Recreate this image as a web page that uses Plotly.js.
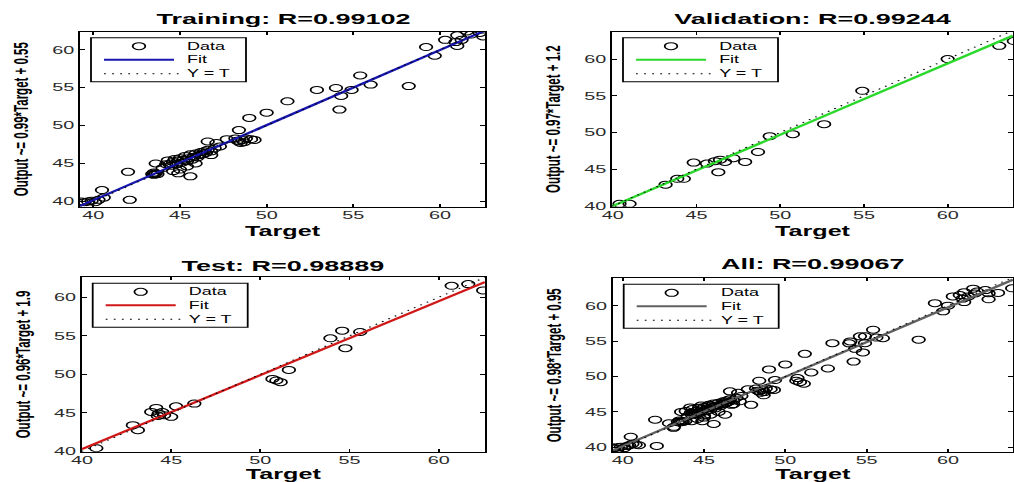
<!DOCTYPE html>
<html><head><meta charset="utf-8">
<script src="https://cdn.plot.ly/plotly-3.0.1.min.js"></script>
<style>
html,body{margin:0;padding:0;background:#fff;overflow:hidden;}
#wrap{width:1014px;height:482px;overflow:hidden;}
#chart{width:564px;height:482px;transform:scaleX(1.797872);transform-origin:0 0;}
</style></head><body>
<div id="wrap"><div id="chart"></div></div>
<script>
// ---------- data ----------
const trainTarget = [39.3,39.5,39.7,39.9,40.1,40.3,40.6,40.5,42.1,42.0,
  43.4,43.5,43.6,43.7,43.5,43.6,
  44.0,44.2,44.3,44.5,44.6,44.7,44.8,44.9,45.0,45.1,45.2,45.3,45.4,45.5,45.6,45.7,45.8,45.9,46.0,46.1,
  46.2,46.3,46.4,46.5,46.6,46.8,47.0,47.3,44.9,45.6,45.4,44.6,45.9,44.4,45.0,46.8,47.1,
  46.6,47.7,48.4,48.2,48.4,48.6,48.8,49.1,48.5,48.7,49.3,48.3,49.0,50.0,
  51.2,52.9,54.0,54.3,54.9,55.4,56.0,54.2,58.2,
  59.2,59.7,60.3,61.0,61.0,61.55,61.25,61.8,62.3,62.5,60.9];
const trainOutput = [40.0,39.9,40.0,40.1,39.9,40.2,40.5,41.5,40.2,43.9,
  43.6,43.8,43.7,43.6,43.5,45.0,
  44.4,44.9,45.4,44.7,45.2,45.6,44.9,45.4,45.7,45.1,45.5,46.0,45.3,45.7,46.2,45.5,45.9,46.3,45.8,46.1,
  46.5,46.2,46.6,46.4,46.8,46.6,47.0,47.25,43.7,43.3,44.6,44.0,45.0,44.9,44.2,46.1,47.7,
  47.9,48.2,49.4,48.3,47.9,48.1,48.3,48.2,47.7,47.8,48.1,48.0,51.0,51.7,
  53.2,54.7,54.95,53.9,54.7,56.6,55.4,52.1,55.2,
  60.35,59.2,61.3,61.9,60.5,62.4,61.3,62.0,62.2,61.75,61.0];

const valTarget = [40.4,41.0,43.15,43.85,44.24,44.83,45.62,46.1,46.4,46.3,46.7,47.2,47.9,48.67,49.37,50.75,52.62,54.9,60.0,63.08,63.95];
const valOutput = [40.3,40.3,42.9,43.7,43.7,45.9,45.77,46.1,46.3,44.6,46.0,46.5,46.0,47.35,49.5,49.77,51.13,55.68,60.0,61.8,62.45];

const testTarget = [40.8,42.85,43.13,43.88,44.16,44.3,44.5,44.6,44.25,45.0,45.27,46.3,50.68,50.9,51.14,51.6,53.93,54.59,55.6,54.77,60.73,61.66,62.5];
const testOutput = [40.4,43.4,42.75,45.12,45.64,44.9,45.1,44.7,44.6,44.48,45.84,46.2,49.4,49.2,48.98,50.57,54.68,55.67,55.5,53.4,61.5,61.72,60.9];

const allTarget = trainTarget.concat(valTarget, testTarget);
const allOutput = trainOutput.concat(valOutput, testOutput);

const panelNames = ['Training', 'Validation', 'Test', 'All'];
const rValues = ['0.99102', '0.99244', '0.98889', '0.99067'];
const fitSlopes = [0.99, 0.97, 0.96, 0.98];
const fitIntercepts = [0.55, 1.2, 1.9, 0.95];
const fitSlopeLabels = ['0.99', '0.97', '0.96', '0.98'];
const fitInterceptLabels = ['0.55', '1.2', '1.9', '0.95'];
const targets = [trainTarget, valTarget, testTarget, allTarget];
const outputs = [trainOutput, valOutput, testOutput, allOutput];
const legendLabels = ['Data', 'Fit', 'Y = T'];

// ---------- layout / style (screen pixels of the 1014x482 picture) ----------
const SW = 1014, SH = 482, PW = 564;
const fx = sx => sx / SW;
const fy = sy => 1 - sy / SH;
const panels = [
  {L: 80,    R: 485,  T: 31.7,  B: 206.7, xr: [39.23, 62.6], yr: [39.3, 62.37], color: '#1717b0', titleY: 18.3},
  {L: 612,   R: 1013, T: 31.7,  B: 206.7, xr: [39.95, 63.9], yr: [39.9, 63.72], color: '#2ad82a', titleY: 18.3},
  {L: 81.7,  R: 485,  T: 277.3, B: 451.7, xr: [39.98, 62.6], yr: [39.95, 62.6], color: '#d01818', titleY: 265},
  {L: 612.7, R: 1013, T: 278.3, B: 452.3, xr: [39.39, 64.0], yr: [39.3, 63.86], color: '#606060', titleY: 263.5}
];
const FONT = 'Liberation Sans, Arial, sans-serif';

const traces = [];
const layout = {
  width: PW, height: SH,
  margin: {l: 0, r: 0, t: 0, b: 0},
  paper_bgcolor: '#fff', plot_bgcolor: '#fff',
  showlegend: false,
  font: {family: FONT, color: '#000'},
  shapes: [], annotations: []
};

panels.forEach((p, i) => {
  const n = i + 1;
  const xa = 'xaxis' + (n === 1 ? '' : n), ya = 'yaxis' + (n === 1 ? '' : n);
  const xr = 'x' + (n === 1 ? '' : n), yr = 'y' + (n === 1 ? '' : n);
  const common = {
    showline: true, linecolor: '#000', linewidth: 1, mirror: 'ticks',
    ticks: 'inside', ticklen: 3, tickwidth: 1, tickcolor: '#000',
    tick0: 0, dtick: 5, showgrid: false, zeroline: false,
    tickfont: {family: FONT, size: 11, color: '#2a2a2a'}
  };
  layout[xa] = Object.assign({}, common, {
    domain: [fx(p.L), fx(p.R)], range: p.xr, anchor: yr, ticklabelstandoff: -2,
    title: {text: 'Target', font: {family: FONT, size: 14, weight: 700, color: '#000'}, standoff: 6}
  });
  layout[ya] = Object.assign({}, common, {
    domain: [fy(p.B), fy(p.T)], range: p.yr, anchor: xr,
    title: {text: 'Output ~= ' + fitSlopeLabels[i] + '*Target + ' + fitInterceptLabels[i],
            font: {family: FONT, size: 11.5, weight: 700, color: '#000'}, standoff: 10}
  });

  // data
  traces.push({
    type: 'scatter', mode: 'markers', x: targets[i], y: outputs[i], xaxis: xr, yaxis: yr,
    name: legendLabels[0],
    marker: {symbol: 'circle-open', size: 7, color: '#000', line: {width: 1, color: '#000'}}
  });
  // fit
  const fxv = p.xr.slice();
  traces.push({
    type: 'scatter', mode: 'lines', x: fxv, y: fxv.map(v => fitSlopes[i] * v + fitIntercepts[i]),
    xaxis: xr, yaxis: yr, name: legendLabels[1], line: {color: p.color, width: 2}
  });
  // Y = T
  traces.push({
    type: 'scatter', mode: 'lines', x: fxv, y: fxv.slice(), xaxis: xr, yaxis: yr,
    name: legendLabels[2], line: {color: '#000', width: 1, dash: '1px,3.5px'}
  });

  // subplot title
  layout.annotations.push({
    xref: 'paper', yref: 'paper', x: fx((p.L + p.R) / 2), y: fy(p.titleY),
    xanchor: 'center', yanchor: 'middle', showarrow: false,
    text: panelNames[i] + ': R=' + rValues[i],
    font: {family: FONT, size: 15, weight: 700, color: '#000'}
  });

  // legend box (drawn compactly like the original)
  const bl = p.L + 11, bt = p.T + 6, bw = 155, bh = 44;
  layout.shapes.push({type: 'rect', xref: 'paper', yref: 'paper',
    x0: fx(bl), x1: fx(bl + bw), y0: fy(bt + bh), y1: fy(bt),
    line: {color: '#000', width: 1}, fillcolor: '#fff', layer: 'above'});
  const rows = [8.5, 22, 36];
  const cx = fx(bl + 48), cy = fy(bt + rows[0]);
  layout.shapes.push({type: 'circle', xref: 'paper', yref: 'paper',
    x0: cx - 3.5 / PW, x1: cx + 3.5 / PW, y0: cy - 3.5 / SH, y1: cy + 3.5 / SH,
    line: {color: '#000', width: 1}, layer: 'above'});
  layout.shapes.push({type: 'line', xref: 'paper', yref: 'paper',
    x0: fx(bl + 13), x1: fx(bl + 83), y0: fy(bt + rows[1]), y1: fy(bt + rows[1]),
    line: {color: p.color, width: 2}, layer: 'above'});
  layout.shapes.push({type: 'line', xref: 'paper', yref: 'paper',
    x0: fx(bl + 13), x1: fx(bl + 88), y0: fy(bt + rows[2]), y1: fy(bt + rows[2]),
    line: {color: '#000', width: 1, dash: '1px,3.5px'}, layer: 'above'});
  legendLabels.forEach((lab, k) => {
    layout.annotations.push({
      xref: 'paper', yref: 'paper', x: fx(bl + 93), y: fy(bt + rows[k]),
      xanchor: 'left', yanchor: 'middle', showarrow: false, text: lab,
      font: {family: FONT, size: 10, color: '#000'}
    });
  });
});

Plotly.newPlot('chart', traces, layout, {displayModeBar: false, staticPlot: true});
</script>
</body></html>
